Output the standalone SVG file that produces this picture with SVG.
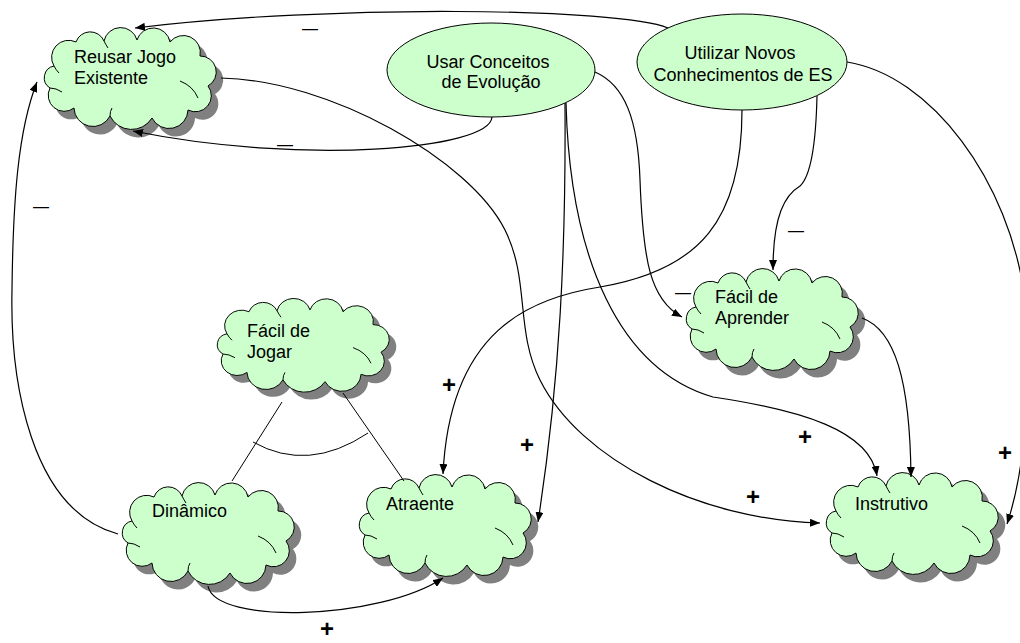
<svg xmlns="http://www.w3.org/2000/svg" xmlns:xlink="http://www.w3.org/1999/xlink" width="1020" height="643" viewBox="0 0 1020 643">
<style>
  .cloud { fill: #ccffcc; stroke: #000; stroke-width: 1; }
  .shadow { fill: #808080; stroke: none; }
  .crease { fill: none; stroke: #000; stroke-width: 1; }
  .oval { fill: #ccffcc; stroke: #000; stroke-width: 1; }
  .lbl { font-family: "Liberation Sans", Arial, sans-serif; font-size: 18px; fill: #000; }
  .plus { font-family: "Liberation Sans", Arial, sans-serif; font-size: 24px; font-weight: bold; fill: #000; text-anchor: middle; }
  .minus { font-family: "Liberation Sans", Arial, sans-serif; font-size: 16px; fill: #000; text-anchor: middle; }
  .conn { fill: none; stroke: #000; stroke-width: 1.2; }
  .arr { marker-end: url(#arrow); }
  .thin { fill: none; stroke: #000; stroke-width: 1; }
</style>
<defs>
  <marker id="arrow" viewBox="0 0 10 8" refX="10" refY="4" markerWidth="10" markerHeight="8" markerUnits="userSpaceOnUse" orient="auto">
    <path d="M0,0 L10,4 L0,8 Z" fill="#000"/>
  </marker>
  <path id="cloudShape" d="M 14,40 A 17 17 0 0 1 36,16 A 15 15 0 0 1 64,15 A 17 17 0 0 1 97,14 A 17 17 0 0 1 130,16 A 17 17 0 0 1 160,30 A 16 16 0 0 1 168,60 A 16 16 0 0 1 148,84 A 19 19 0 0 1 112,92 A 24 24 0 0 1 70,90 A 19 19 0 0 1 34,82 A 16 16 0 0 1 10,62 A 12 12 0 0 1 14,40 Z"/>
  <path id="cloudCreases" d="M 10,62 Q 16,62 22,66 M 140,55 Q 153,60 158,72 M 14,40 Q 16,44 19,47 M 70,90 Q 70,85 72,82 M 64,15 Q 66,19 68,22"/>
  <g id="cloud">
    <use xlink:href="#cloudShape" class="shadow" transform="translate(7,8)"/>
    <use xlink:href="#cloudShape" class="cloud"/>
    <use xlink:href="#cloudCreases" class="crease"/>
  </g>
</defs>

<g id="node-reusar">
  <use xlink:href="#cloud" transform="translate(40,26)"/>
  <text class="lbl" x="74" y="63">Reusar Jogo</text>
  <text class="lbl" x="74" y="84">Existente</text>
</g>
<g id="node-usar">
  <ellipse class="oval" cx="491" cy="70" rx="104" ry="47"/>
  <text class="lbl" x="488" y="68" text-anchor="middle">Usar Conceitos</text>
  <text class="lbl" x="491" y="88" text-anchor="middle">de Evolução</text>
</g>
<g id="node-utilizar">
  <ellipse class="oval" cx="742" cy="62" rx="105" ry="48"/>
  <text class="lbl" x="740" y="59" text-anchor="middle">Utilizar Novos</text>
  <text class="lbl" x="743" y="81" text-anchor="middle">Conhecimentos de ES</text>
</g>
<g id="node-facil-aprender">
  <use xlink:href="#cloud" transform="translate(682,267)"/>
  <text class="lbl" x="715" y="303">Fácil de</text>
  <text class="lbl" x="715" y="324">Aprender</text>
</g>
<g id="node-facil-jogar">
  <use xlink:href="#cloud" transform="translate(213,297) scale(1,0.92)"/>
  <text class="lbl" x="247" y="337">Fácil de</text>
  <text class="lbl" x="247" y="358">Jogar</text>
</g>
<g id="node-dinamico">
  <use xlink:href="#cloud" transform="translate(118,481)"/>
  <text class="lbl" x="152" y="517">Dinâmico</text>
</g>
<g id="node-atraente">
  <use xlink:href="#cloud" transform="translate(355,473)"/>
  <text class="lbl" x="386" y="510">Atraente</text>
</g>
<g id="node-instrutivo">
  <use xlink:href="#cloud" transform="translate(822,471)"/>
  <text class="lbl" x="855" y="510">Instrutivo</text>
</g>

<g id="connectors">
  <path class="conn arr" d="M 668,28 C 620,8 330,4 135,28"/>
  <path class="conn arr" d="M 492,117 C 490,150 300,165 133,131"/>
  <path class="conn arr" d="M 118,534 C 30,510 10,380 12,290 C 13,200 18,130 37,82"/>
  <path class="conn arr" d="M 221,78 C 330,80 470,160 505,230 C 530,280 515,330 540,380 C 580,460 700,520 820,523"/>
  <path class="conn arr" d="M 565,103 C 566,250 560,380 538,522"/>
  <path class="conn arr" d="M 566,103 C 570,260 620,370 713,397 C 800,410 870,430 877,476"/>
  <path class="conn arr" d="M 595,72 C 625,85 638,120 640,180 C 643,260 650,300 682,317"/>
  <path class="conn arr" d="M 742,110 C 742,220 700,270 600,287 C 530,298 450,330 443,474"/>
  <path class="conn arr" d="M 817,96 C 816,140 812,175 800,186 C 785,195 773,215 773,270"/>
  <path class="conn arr" d="M 847,62 C 930,75 1010,180 1025,300 C 1030,400 1025,470 1007,524"/>
  <path class="conn arr" d="M 862,318 C 895,330 910,380 911,477"/>
  <path class="conn arr" d="M 208,586 C 215,625 380,620 443,578"/>
  <path class="thin" d="M 282,402 L 232,481 M 343,393 L 404,481"/>
  <path class="thin" d="M 253,442 Q 308,473 368,433"/>

  <text class="minus" x="310" y="34">—</text>
  <text class="minus" x="285" y="150">—</text>
  <text class="minus" x="41" y="212">—</text>
  <text class="minus" x="683" y="298">—</text>
  <text class="minus" x="796" y="236">—</text>

  <text class="plus" x="449" y="393">+</text>
  <text class="plus" x="527" y="453">+</text>
  <text class="plus" x="805" y="445">+</text>
  <text class="plus" x="753" y="505">+</text>
  <text class="plus" x="1005" y="461">+</text>
  <text class="plus" x="327" y="637">+</text>
</g>
</svg>
